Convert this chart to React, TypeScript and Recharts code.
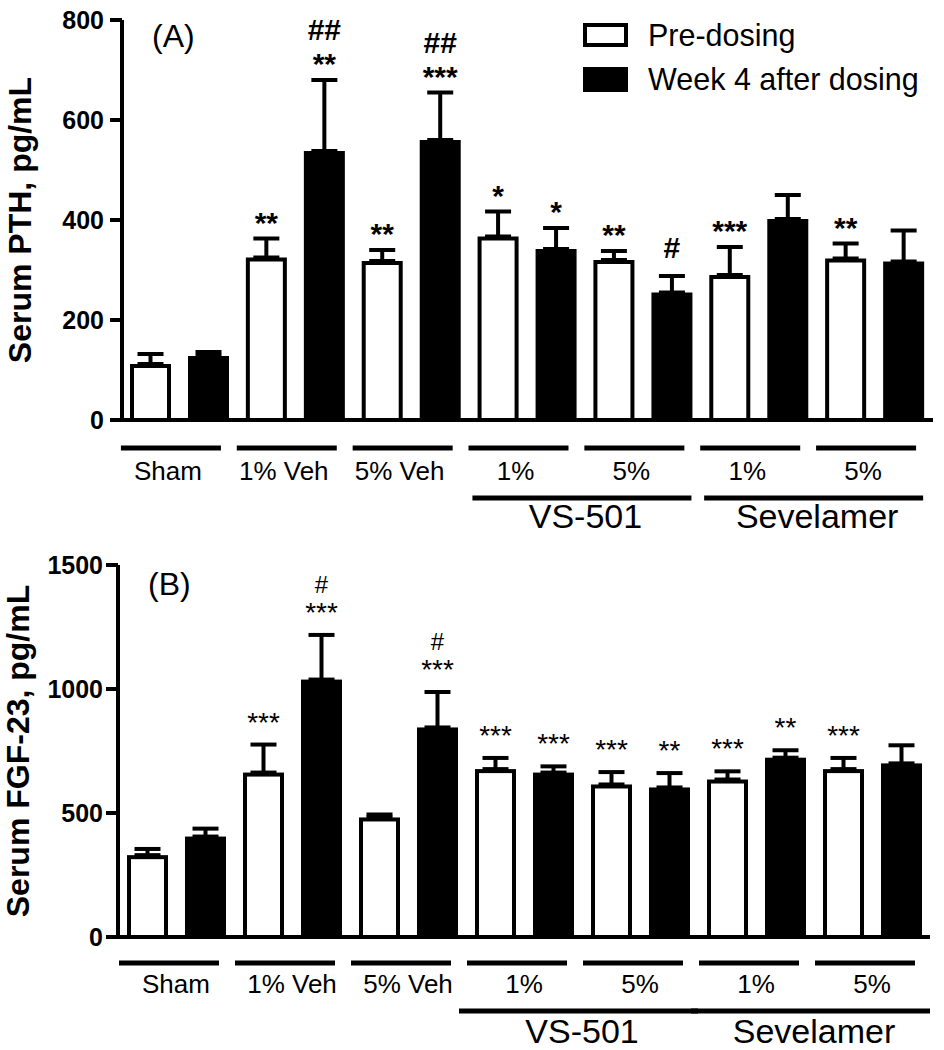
import { Bar, BarChart, ErrorBar, Legend, XAxis, YAxis } from "recharts";

const FONT = '"Liberation Sans", Arial, Helvetica, sans-serif';

// categories
const groupLabels = ["Sham", "1% Veh", "5% Veh", "1%", "5%", "1%", "5%"];
const superLabels = ["VS-501", "Sevelamer"];
const superStart = [3, 5];

// (A) serum PTH, pg/mL
const pthPre = [112, 325, 318, 367, 320, 290, 323];
const pthPreErr = [20, 38, 22, 50, 18, 56, 30];
const pthPreSig = ["", "**", "**", "*", "**", "***", "**"];
const pthWk4 = [128, 538, 560, 342, 255, 402, 317];
const pthWk4Err = [8, 142, 95, 42, 33, 48, 62];
const pthWk4Sig = ["", "**", "***", "*", "", "", ""];
const pthWk4Hash = ["", "##", "##", "", "#", "", ""];
const pthTicks = [0, 200, 400, 600, 800];

// (B) serum FGF-23, pg/mL
const fgfPre = [330, 663, 482, 677, 615, 635, 677];
const fgfPreErr = [25, 113, 12, 45, 50, 33, 45];
const fgfPreSig = ["", "***", "", "***", "***", "***", "***"];
const fgfWk4 = [405, 1038, 845, 663, 603, 723, 700];
const fgfWk4Err = [32, 180, 143, 25, 58, 30, 73];
const fgfWk4Sig = ["", "***", "***", "***", "**", "**", ""];
const fgfWk4Hash = ["", "#", "#", "", "", "", ""];
const fgfTicks = [0, 500, 1000, 1500];

function buildRows(
  pre: number[], preErr: number[], preSig: string[],
  wk4: number[], wk4Err: number[], wk4Sig: string[], wk4Hash: string[]
) {
  return groupLabels.map((_, i) => ({
    id: i,
    pre: pre[i],
    preErr: preErr[i],
    preBar: [0, preErr[i]],
    preSig: preSig[i],
    preHash: "",
    wk4: wk4[i],
    wk4Err: wk4Err[i],
    wk4Bar: [0, wk4Err[i]],
    wk4Sig: wk4Sig[i],
    wk4Hash: wk4Hash[i],
  }));
}

const pthRows = buildRows(pthPre, pthPreErr, pthPreSig, pthWk4, pthWk4Err, pthWk4Sig, pthWk4Hash);
const fgfRows = buildRows(fgfPre, fgfPreErr, fgfPreSig, fgfWk4, fgfWk4Err, fgfWk4Sig, fgfWk4Hash);

type Panel = {
  letter: string;
  title: string;
  rows: any[];
  ticks: number[];
  top: number;
  height: number;
  marginTop: number;
  axisHeight: number;
  yWidth: number;
  marginRight: number;
  tickMargin: number;
  titleX: number;
  letterY: number;
  annWeight: number;
  starSize: number;
  starLift: number;
  hashSize: number;
  hashLift: number;
  hashOnlyLift: number;
  underlineY: number;
  underlineShift: number;
  labelY: number;
  labelShift: number;
  superLineY: number;
  superLeft: number;
  superRight: number;
  superLabelY: number;
};

const panels: Panel[] = [
  {
    letter: "(A)", title: "Serum PTH, pg/mL", rows: pthRows, ticks: pthTicks,
    top: 0, height: 548, marginTop: 20, axisHeight: 126, yWidth: 122, marginRight: 11,
    tickMargin: 6, titleX: 31, letterY: 27, annWeight: 700,
    starSize: 30, starLift: 6, hashSize: 30, hashLift: 40, hashOnlyLift: 18,
    underlineY: 28, underlineShift: -9, labelY: 60, labelShift: -12,
    superLineY: 78, superLeft: 113, superRight: 106, superLabelY: 108,
  },
  {
    letter: "(B)", title: "Serum FGF-23, pg/mL", rows: fgfRows, ticks: fgfTicks,
    top: 548, height: 502, marginTop: 17, axisHeight: 111, yWidth: 118, marginRight: 14,
    tickMargin: 3, titleX: 29, letterY: 30, annWeight: 400,
    starSize: 28, starLift: 13, hashSize: 24, hashLift: 42, hashOnlyLift: 15,
    underlineY: 26, underlineShift: -7, labelY: 56, labelShift: 0,
    superLineY: 74, superLeft: 123, superRight: 116, superLabelY: 106,
  },
];

function makeShape(kind: "pre" | "wk4", p: Panel) {
  return (props: any) => {
    const { x, y, width, height, payload } = props;
    const val = payload[kind];
    const err = payload[kind + "Err"];
    const errTop = y - (err * Math.abs(height)) / val;
    const cx = x + width / 2;
    const base = y + height;
    const sig = payload[kind + "Sig"];
    const hash = payload[kind + "Hash"];
    return (
      <g>
        {kind === "pre" ? (
          <rect x={x + 2} y={y + 2} width={width - 4} height={height - 2} fill="#fff" stroke="#000" strokeWidth={4} />
        ) : (
          <rect x={x} y={y} width={width} height={height} fill="#000" />
        )}
        <line x1={cx} x2={cx} y1={base} y2={base + 13} stroke="#000" strokeWidth={3} />
        {sig ? (
          <text x={cx} y={errTop - p.starLift} textAnchor="middle" fontSize={p.starSize} fontWeight={p.annWeight} fontFamily={FONT} fill="#000">
            {sig}
          </text>
        ) : null}
        {hash ? (
          <text
            x={cx}
            y={errTop - (sig ? p.hashLift : p.hashOnlyLift)}
            textAnchor="middle"
            fontSize={p.hashSize}
            fontWeight={p.annWeight}
            fontFamily={FONT}
            fill="#000"
          >
            {hash}
          </text>
        ) : null}
      </g>
    );
  };
}

function makeTick(p: Panel, band: number) {
  return (props: any) => {
    const { x, y, payload } = props;
    const i = Number(payload.value);
    const mid = x + p.underlineShift;
    const s = superStart.indexOf(i);
    const superMid = x + band / 2;
    return (
      <g>
        <line x1={mid - 50} x2={mid + 50} y1={y + p.underlineY} y2={y + p.underlineY} stroke="#000" strokeWidth={5} />
        <text x={x + p.labelShift} y={y + p.labelY} textAnchor="middle" fontSize={26} fontFamily={FONT} fill="#000">
          {groupLabels[i]}
        </text>
        {s >= 0 ? (
          <g>
            <line
              x1={superMid - p.superLeft}
              x2={superMid + p.superRight}
              y1={y + p.superLineY}
              y2={y + p.superLineY}
              stroke="#000"
              strokeWidth={5}
            />
            <text x={superMid} y={y + p.superLabelY} textAnchor="middle" fontSize={34} fontFamily={FONT} fill="#000">
              {superLabels[s]}
            </text>
          </g>
        ) : null}
      </g>
    );
  };
}

function LegendBox() {
  const row = { display: "flex", alignItems: "center", height: 44 } as const;
  return (
    <div style={{ fontFamily: FONT, fontSize: 30.5, color: "#000", whiteSpace: "nowrap" }}>
      <div style={row}>
        <span style={{ display: "inline-block", width: 45, height: 24, boxSizing: "border-box", border: "4px solid #000", background: "#fff", marginRight: 20 }} />
        Pre-dosing
      </div>
      <div style={row}>
        <span style={{ display: "inline-block", width: 45, height: 25, background: "#000", marginRight: 20 }} />
        Week 4 after dosing
      </div>
    </div>
  );
}

function PanelChart({ p, showLegend }: { p: Panel; showLegend: boolean }) {
  const width = 944;
  const plotWidth = width - p.yWidth - p.marginRight;
  const band = plotWidth / groupLabels.length;
  const ymax = p.ticks[p.ticks.length - 1];
  return (
    <div style={{ position: "absolute", left: 0, top: p.top }}>
      <BarChart
        width={width}
        height={p.height}
        data={p.rows}
        margin={{ top: p.marginTop, right: p.marginRight, left: 0, bottom: 2 }}
        barSize={41}
        barGap={17}
      >
        <XAxis
          dataKey="id"
          type="category"
          height={p.axisHeight}
          interval={0}
          tickSize={0}
          tickMargin={0}
          tickLine={false}
          axisLine={{ stroke: "#000", strokeWidth: 4 }}
          tick={makeTick(p, band)}
        />
        <YAxis
          width={p.yWidth}
          domain={[0, ymax]}
          ticks={p.ticks}
          interval={0}
          allowDataOverflow
          tickSize={12}
          tickMargin={p.tickMargin}
          axisLine={{ stroke: "#000", strokeWidth: 4 }}
          tickLine={{ stroke: "#000", strokeWidth: 4 }}
          tick={{ fill: "#000", fontSize: 25, fontWeight: 700, fontFamily: FONT }}
          label={(lp: any) => {
            const vb = lp.viewBox || { x: 0, y: p.marginTop, width: p.yWidth, height: 0 };
            const cy = vb.y + vb.height / 2;
            return (
              <g>
                <text
                  x={p.titleX}
                  y={cy}
                  transform={`rotate(-90 ${p.titleX} ${cy})`}
                  textAnchor="middle"
                  fontSize={32}
                  fontWeight={700}
                  fontFamily={FONT}
                  fill="#000"
                >
                  {p.title}
                </text>
                <text x={vb.x + vb.width + 30} y={vb.y + p.letterY} fontSize={32} fontFamily={FONT} fill="#000">
                  {p.letter}
                </text>
              </g>
            );
          }}
        />
        {showLegend ? (
          <Legend
            layout="vertical"
            align="center"
            verticalAlign="middle"
            wrapperStyle={{ top: 13, left: 583, width: 355 }}
            content={() => <LegendBox />}
          />
        ) : null}
        <Bar dataKey="pre" name="Pre-dosing" fill="#fff" isAnimationActive={false} shape={makeShape("pre", p)}>
          <ErrorBar dataKey="preBar" direction="y" width={13} stroke="#000" strokeWidth={4} isAnimationActive={false} />
        </Bar>
        <Bar dataKey="wk4" name="Week 4 after dosing" fill="#000" isAnimationActive={false} shape={makeShape("wk4", p)}>
          <ErrorBar dataKey="wk4Bar" direction="y" width={13} stroke="#000" strokeWidth={4} isAnimationActive={false} />
        </Bar>
      </BarChart>
    </div>
  );
}

export default function App() {
  return (
    <div style={{ position: "absolute", left: 0, top: 0, width: 944, height: 1050, background: "#fff" }}>
      {panels.map((p, i) => (
        <PanelChart key={p.letter} p={p} showLegend={i === 0} />
      ))}
    </div>
  );
}
